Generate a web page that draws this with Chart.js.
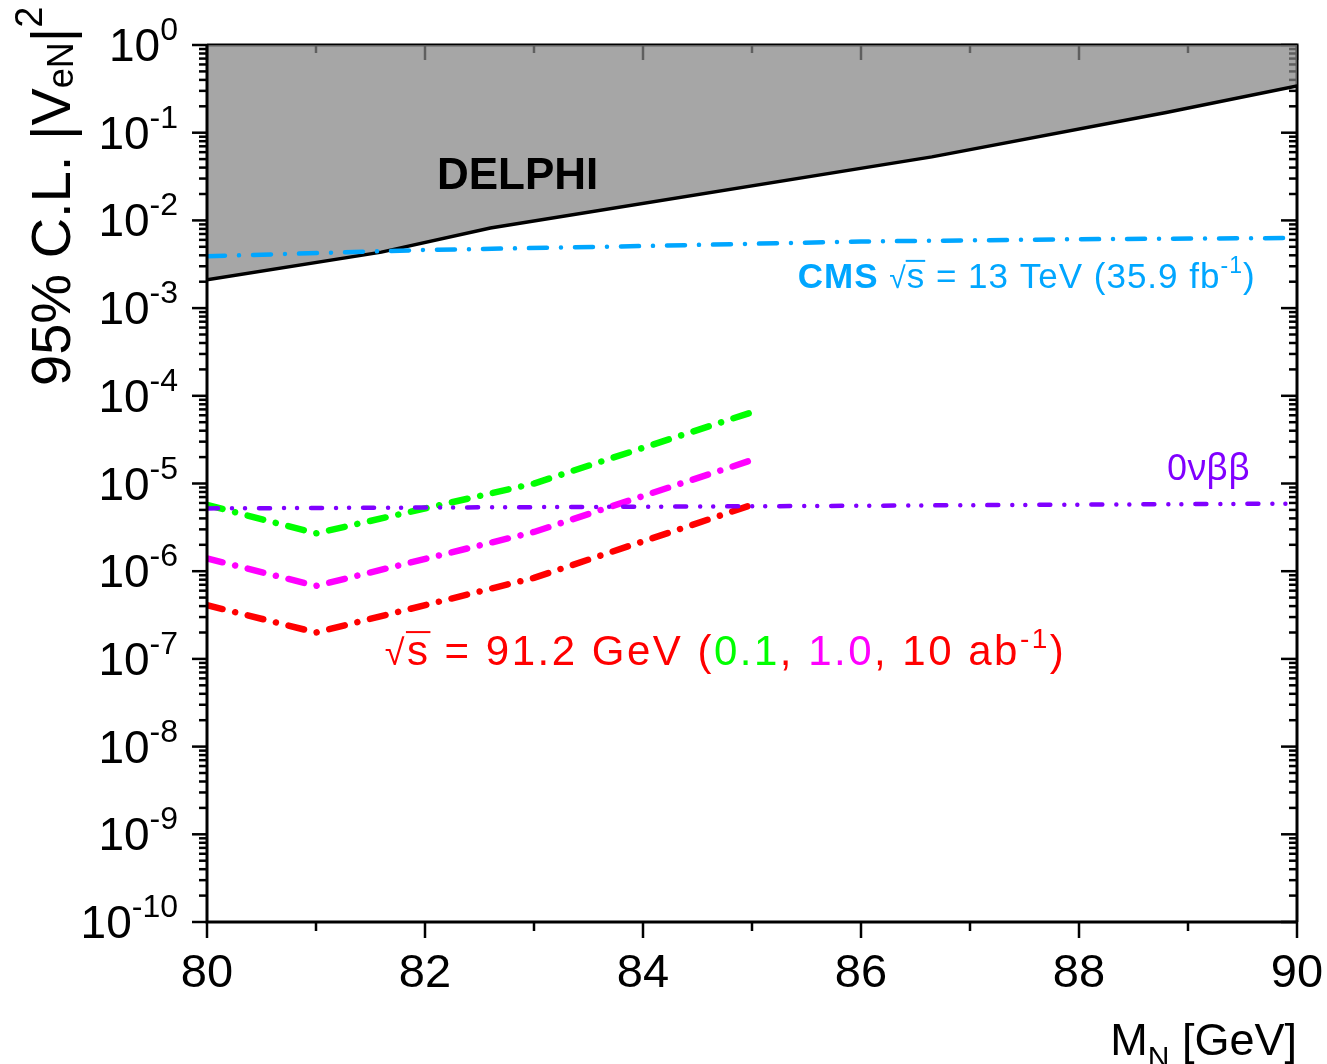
<!DOCTYPE html>
<html>
<head>
<meta charset="utf-8">
<script src="https://cdn.jsdelivr.net/npm/chart.js@4.4.1/dist/chart.umd.min.js"></script>
<style>
  html, body { margin: 0; padding: 0; background: #fff; }
</style>
</head>
<body>
<canvas id="c" width="1327" height="1064"></canvas>
<script>
// limits, |V_eN|^2 vs M_N [GeV]
const delphiMass = [80, 81.6, 82.6, 86.65, 88.8, 90];
const delphiLimit = [2.1e-3, 4.35e-3, 8.2e-3, 5.3e-2, 0.17, 0.34];
const cmsMass = [80, 82, 84, 86, 88, 90];
const cmsLimit = [3.9e-3, 4.6e-3, 5.1e-3, 5.75e-3, 6.1e-3, 6.3e-3];
const bbMass = [80, 85, 90];
const bbLimit = [5.2e-6, 5.5e-6, 5.9e-6];
const zMass = [80, 81, 83, 85];
const z01 = [5.7e-6, 2.7e-6, 1.0e-5, 6.5e-5];
const z1 = [1.4e-6, 6.8e-7, 2.8e-6, 1.85e-5];
const z10 = [4.1e-7, 2.0e-7, 8.4e-7, 5.7e-6];
const yExponents = [0, -1, -2, -3, -4, -5, -6, -7, -8, -9, -10];

const FONT = '"Liberation Sans", Arial, sans-serif';

function pts(xs, ys) {
  return xs.map((x, i) => ({ x: x, y: ys[i] }));
}

function line(ctx, x1, y1, x2, y2) {
  ctx.beginPath();
  ctx.moveTo(x1, y1);
  ctx.lineTo(x2, y2);
  ctx.stroke();
}

// draws a run of text pieces, each with own font / colour / baseline shift
function rich(ctx, x, y, parts, align) {
  let w = 0;
  parts.forEach(p => { ctx.font = p.font; w += ctx.measureText(p.t).width; });
  let cx = align === 'right' ? x - w : x;
  ctx.textAlign = 'left';
  ctx.textBaseline = 'alphabetic';
  parts.forEach(p => {
    ctx.font = p.font;
    ctx.fillStyle = p.color || '#000';
    ctx.fillText(p.t, cx, y + (p.dy || 0));
    const tw = ctx.measureText(p.t).width;
    if (p.bar) {
      ctx.strokeStyle = p.color;
      ctx.lineWidth = 2;
      line(ctx, cx - 1, y - p.bar, cx + tw, y - p.bar);
    }
    cx += tw;
  });
}

function yMinorValues() {
  const out = [];
  for (let e = -10; e < 0; e++) {
    for (let m = 2; m <= 9; m++) out.push(m * Math.pow(10, e));
  }
  return out;
}

const frame = {
  id: 'frame',
  beforeDatasetsDraw(chart) {
    const { ctx, chartArea: a, scales: { x, y } } = chart;
    ctx.save();
    ctx.strokeStyle = '#000';
    ctx.lineWidth = 3;
    ctx.beginPath();
    ctx.moveTo(a.left, a.top);
    ctx.lineTo(a.right, a.top);
    ctx.lineTo(a.right, a.bottom);
    ctx.stroke();
    ctx.lineWidth = 2.5;
    for (let v = 80; v <= 90; v++) {
      const px = x.getPixelForValue(v);
      line(ctx, px, a.top, px, a.top + (v % 2 ? 8 : 15));
    }
    yExponents.forEach(e => {
      const py = y.getPixelForValue(Math.pow(10, e));
      line(ctx, a.right, py, a.right - 16, py);
    });
    yMinorValues().forEach(v => {
      const py = y.getPixelForValue(v);
      line(ctx, a.right, py, a.right - 8, py);
    });
    ctx.restore();
  },
  afterDatasetsDraw(chart) {
    const { ctx, chartArea: a, scales: { x, y } } = chart;
    ctx.save();
    ctx.strokeStyle = '#000';
    ctx.lineWidth = 3;
    ctx.beginPath();
    ctx.moveTo(a.left, a.top);
    ctx.lineTo(a.left, a.bottom);
    ctx.lineTo(a.right, a.bottom);
    ctx.stroke();
    ctx.lineWidth = 2.5;
    for (let v = 80; v <= 90; v++) {
      const px = x.getPixelForValue(v);
      line(ctx, px, a.bottom, px, a.bottom + (v % 2 ? 9 : 16));
    }
    yExponents.forEach(e => {
      const py = y.getPixelForValue(Math.pow(10, e));
      line(ctx, a.left, py, a.left - 15, py);
      rich(ctx, 178, py + 16, [
        { t: '10', font: '46px ' + FONT },
        { t: String(e), font: '32px ' + FONT, dy: -21 }
      ], 'right');
    });
    yMinorValues().forEach(v => {
      const py = y.getPixelForValue(v);
      line(ctx, a.left, py, a.left - 8, py);
    });

    // axis titles
    ctx.save();
    ctx.translate(70, 386);
    ctx.rotate(-Math.PI / 2);
    rich(ctx, 0, 0, [
      { t: '95% C.L. |V', font: '56px ' + FONT },
      { t: 'eN', font: '36px ' + FONT, dy: 3 },
      { t: '|', font: '56px ' + FONT },
      { t: '2', font: '38px ' + FONT, dy: -28 }
    ], 'left');
    ctx.restore();
    rich(ctx, 1297, 1055, [
      { t: 'M', font: '45px ' + FONT },
      { t: 'N', font: '30px ' + FONT, dy: 12 },
      { t: ' [GeV]', font: '45px ' + FONT }
    ], 'right');

    // curve labels
    rich(ctx, x.getPixelForValue(82.11), y.getPixelForValue(0.0228), [
      { t: 'DELPHI', font: 'bold 44px ' + FONT }
    ], 'left');
    const blue = '#00a6ff';
    ctx.letterSpacing = '1px';
    rich(ctx, x.getPixelForValue(89.62), y.getPixelForValue(1.7e-3), [
      { t: 'CMS ', font: 'bold 35px ' + FONT, color: blue },
      { t: '\u221A', font: '30px ' + FONT, color: blue },
      { t: 's', font: '35px ' + FONT, color: blue, bar: 27 },
      { t: ' = 13 TeV (35.9 fb', font: '35px ' + FONT, color: blue },
      { t: '-1', font: '23px ' + FONT, color: blue, dy: -15 },
      { t: ')', font: '35px ' + FONT, color: blue }
    ], 'right');
    ctx.letterSpacing = '0px';
    rich(ctx, x.getPixelForValue(89.57), y.getPixelForValue(1.1e-5), [
      { t: '0\u03BD\u03B2\u03B2', font: '36px "Noto Sans", sans-serif', color: '#8000ff' }
    ], 'right');
    const red = '#ff0000';
    ctx.letterSpacing = '2.5px';
    rich(ctx, x.getPixelForValue(81.63), y.getPixelForValue(8.5e-8), [
      { t: '\u221A', font: '36px ' + FONT, color: red },
      { t: 's', font: '42px ' + FONT, color: red, bar: 33 },
      { t: ' = 91.2 GeV (', font: '42px ' + FONT, color: red },
      { t: '0.1', font: '42px ' + FONT, color: '#00ff00' },
      { t: ', ', font: '42px ' + FONT, color: red },
      { t: '1.0', font: '42px ' + FONT, color: '#ff00ff' },
      { t: ', 10 ab', font: '42px ' + FONT, color: red },
      { t: '-1', font: '28px ' + FONT, color: red, dy: -17 },
      { t: ')', font: '42px ' + FONT, color: red }
    ], 'left');
    ctx.letterSpacing = '0px';
    ctx.restore();
  }
};

const dashDot = [16, 13, 0.01, 13];

new Chart(document.getElementById('c'), {
  type: 'line',
  data: {
    datasets: [
      {
        label: 'DELPHI',
        data: pts(delphiMass, delphiLimit),
        borderColor: '#000',
        borderWidth: 3.5,
        backgroundColor: 'rgba(132,132,132,0.72)',
        fill: 'end',
        order: 10
      },
      {
        label: 'CMS 13 TeV',
        data: pts(cmsMass, cmsLimit),
        borderColor: '#00a6ff',
        borderWidth: 4.5,
        borderDash: [18, 14, 0.01, 14],
        order: 1
      },
      {
        label: '0vbb',
        data: pts(bbMass, bbLimit),
        borderColor: '#8000ff',
        borderWidth: 4.5,
        borderDash: [11, 14, 0.01, 13, 0.01, 14],
        order: 2
      },
      {
        label: '0.1 ab-1',
        data: pts(zMass, z01),
        borderColor: '#00ff00',
        borderWidth: 6.5,
        borderDash: dashDot,
        order: 3
      },
      {
        label: '1.0 ab-1',
        data: pts(zMass, z1),
        borderColor: '#ff00ff',
        borderWidth: 6.5,
        borderDash: dashDot,
        order: 3
      },
      {
        label: '10 ab-1',
        data: pts(zMass, z10),
        borderColor: '#ff0000',
        borderWidth: 6.5,
        borderDash: dashDot,
        order: 3
      }
    ]
  },
  options: {
    responsive: false,
    animation: false,
    devicePixelRatio: 1,
    layout: { padding: { top: 45, right: 30, left: 0, bottom: 0 } },
    elements: {
      point: { radius: 0 },
      line: { tension: 0, borderCapStyle: 'round', fill: false }
    },
    plugins: { legend: { display: false }, tooltip: { enabled: false } },
    scales: {
      x: {
        type: 'linear',
        min: 80,
        max: 90,
        grid: { display: false, drawTicks: false },
        border: { display: false },
        ticks: {
          stepSize: 2,
          maxRotation: 0,
          autoSkip: false,
          padding: 24,
          color: '#000',
          font: { family: FONT, size: 47 }
        },
        afterFit: s => { s.height = 142; s.paddingLeft = 0; s.paddingRight = 0; }
      },
      y: {
        type: 'logarithmic',
        min: 1e-10,
        max: 1,
        grid: { display: false, drawTicks: false },
        border: { display: false },
        ticks: { display: false },
        afterFit: s => { s.width = 207; s.paddingTop = 0; s.paddingBottom = 0; }
      }
    }
  },
  plugins: [frame]
});
</script>
</body>
</html>
